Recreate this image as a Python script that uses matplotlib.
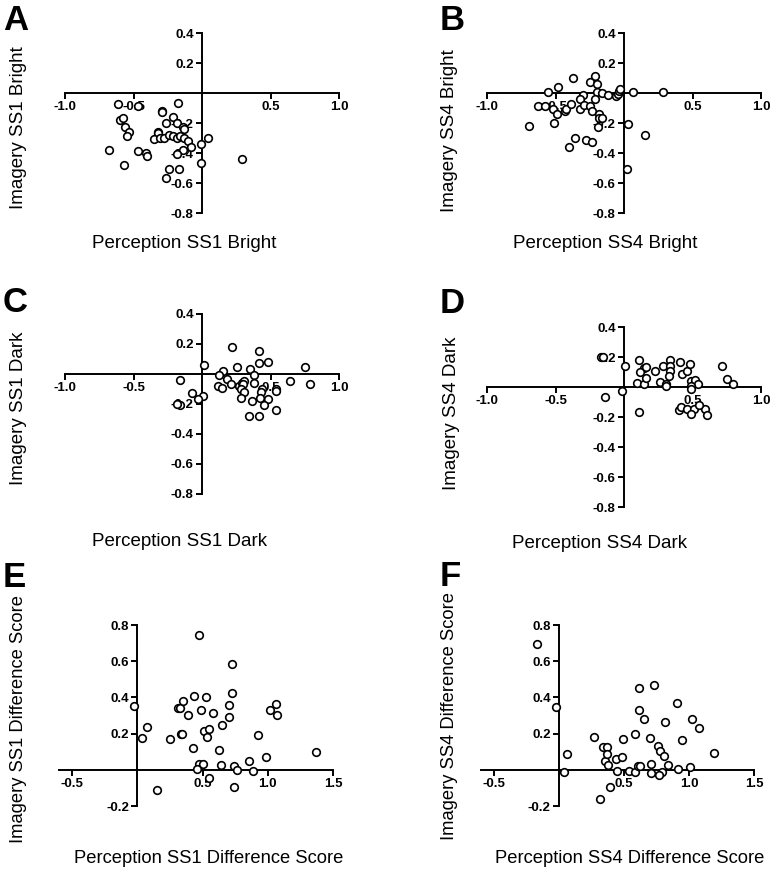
import matplotlib
matplotlib.use("Agg")
import matplotlib.pyplot as plt

plt.rcParams['font.family'] = ['Liberation Sans', 'DejaVu Sans']
plt.rcParams['axes.unicode_minus'] = False

# ---------------- data ----------------
a_x = [-0.61,-0.47,-0.175,-0.29,-0.29,-0.60,-0.575,-0.56,-0.53,-0.545,-0.21,-0.265,-0.18,-0.14,-0.135,-0.32,-0.32,-0.35,-0.31,-0.28,-0.24,-0.21,-0.18,-0.16,-0.13,-0.10,-0.08,-0.01,0.046,-0.68,-0.47,-0.41,-0.40,-0.57,-0.14,-0.18,0.29,-0.01,-0.24,-0.17,-0.26]
a_y = [-0.074,-0.088,-0.065,-0.12,-0.13,-0.18,-0.17,-0.23,-0.26,-0.29,-0.16,-0.20,-0.20,-0.23,-0.24,-0.26,-0.27,-0.31,-0.30,-0.30,-0.28,-0.29,-0.30,-0.29,-0.30,-0.32,-0.36,-0.34,-0.30,-0.38,-0.39,-0.40,-0.42,-0.48,-0.38,-0.41,-0.44,-0.47,-0.51,-0.51,-0.57]

b_x = [-0.556,-0.48,-0.37,-0.21,-0.25,-0.20,-0.30,-0.32,-0.20,-0.16,-0.12,-0.06,-0.046,-0.036,-0.027,0.068,0.284,-0.21,-0.63,-0.58,-0.52,-0.49,-0.43,-0.42,-0.39,-0.32,-0.29,-0.245,-0.233,-0.185,-0.18,-0.16,-0.19,-0.69,-0.51,0.03,0.15,-0.355,-0.28,-0.23,-0.40,0.02]
b_y = [0.007,0.04,0.10,0.115,0.07,0.063,-0.016,-0.04,0.007,0.0,-0.016,-0.02,-0.01,0.013,0.025,0.007,0.007,-0.04,-0.09,-0.085,-0.105,-0.14,-0.117,-0.105,-0.076,-0.11,-0.083,-0.09,-0.117,-0.14,-0.166,-0.17,-0.23,-0.22,-0.2,-0.21,-0.28,-0.30,-0.315,-0.33,-0.36,-0.505]

c_x = [0.216,0.415,0.48,0.415,0.017,0.255,0.35,0.75,0.153,0.124,0.38,0.185,-0.163,0.64,0.79,0.21,0.117,0.148,0.27,0.294,0.31,0.30,0.38,0.287,0.31,0.44,0.43,0.54,0.537,-0.07,0.007,-0.027,0.287,0.426,0.48,0.367,0.45,-0.163,-0.18,0.54,0.34,0.415]
c_y = [0.18,0.15,0.08,0.07,0.057,0.046,0.03,0.046,0.018,-0.004,-0.004,-0.033,-0.037,-0.044,-0.07,-0.064,-0.077,-0.092,-0.081,-0.059,-0.044,-0.07,-0.059,-0.103,-0.121,-0.103,-0.121,-0.099,-0.116,-0.13,-0.15,-0.17,-0.158,-0.158,-0.17,-0.18,-0.21,-0.21,-0.20,-0.24,-0.28,-0.28]

d_x = [-0.165,-0.153,0.005,0.112,0.148,0.114,0.16,0.228,0.284,0.333,0.333,0.333,0.328,0.41,0.42,0.46,0.484,0.095,0.148,0.16,0.265,0.306,0.31,0.49,0.515,0.54,0.49,0.49,0.714,0.75,0.795,-0.015,-0.14,0.109,0.40,0.415,0.46,0.51,0.487,0.593,0.605,0.545]
d_y = [0.197,0.197,0.138,0.18,0.127,0.098,0.136,0.105,0.138,0.18,0.138,0.109,0.07,0.164,0.088,0.109,0.153,0.026,0.018,0.06,0.033,0.018,0.007,0.04,0.048,0.022,0.004,-0.011,0.138,0.055,0.022,-0.026,-0.066,-0.168,-0.153,-0.136,-0.149,-0.149,-0.182,-0.149,-0.19,-0.12]

e_x = [-0.023,0.033,0.077,0.148,0.248,0.315,0.327,0.353,0.332,0.345,0.39,0.425,0.432,0.486,0.527,0.514,0.552,0.532,0.578,0.647,0.624,0.473,0.506,0.46,0.55,0.642,0.70,0.70,0.724,0.724,0.742,0.765,0.744,0.86,0.89,0.923,0.985,1.02,1.061,1.074,1.371,0.476]
e_y = [0.352,0.177,0.234,-0.109,0.168,0.339,0.339,0.382,0.20,0.20,0.302,0.118,0.407,0.33,0.40,0.216,0.227,0.179,0.312,0.247,0.112,0.031,0.031,0.002,-0.044,0.026,0.293,0.358,0.422,0.584,0.02,-0.002,-0.094,0.048,-0.006,0.192,0.072,0.33,0.363,0.302,0.098,0.745]

f_x = [-0.023,0.038,0.064,0.27,0.315,0.341,0.367,0.354,0.367,0.38,0.392,0.438,0.444,0.485,0.49,0.541,0.585,0.585,0.61,0.623,0.615,0.618,0.654,0.70,0.705,0.705,0.733,0.759,0.777,0.808,0.815,0.792,0.772,0.836,0.91,0.918,0.946,1.008,1.023,1.074,1.192,-0.172]
f_y = [0.348,-0.011,0.087,0.179,-0.162,0.127,0.127,0.05,0.087,0.026,-0.094,0.059,-0.006,0.072,0.168,-0.006,0.20,-0.011,0.02,0.02,0.33,0.45,0.278,0.173,0.031,-0.017,0.468,0.131,0.103,0.076,0.265,-0.011,-0.03,0.026,0.37,0.002,0.164,0.013,0.28,0.232,0.094,0.695]

corr_xticks = [-1.0, -0.5, 0.5, 1.0]
corr_yticks = [0.4, 0.2, -0.2, -0.4, -0.6, -0.8]
diff_xticks = [-0.5, 0.5, 1.0, 1.5]
diff_yticks = [0.8, 0.6, 0.4, 0.2, -0.2]

panels = [
    dict(letter="A", x=a_x, y=a_y, xlabel="Perception SS1 Bright", ylabel="Imagery SS1 Bright"),
    dict(letter="B", x=b_x, y=b_y, xlabel="Perception SS4 Bright", ylabel="Imagery SS4 Bright"),
    dict(letter="C", x=c_x, y=c_y, xlabel="Perception SS1 Dark", ylabel="Imagery SS1 Dark"),
    dict(letter="D", x=d_x, y=d_y, xlabel="Perception SS4 Dark", ylabel="Imagery SS4 Dark"),
    dict(letter="E", x=e_x, y=e_y, xlabel="Perception SS1 Difference Score", ylabel="Imagery SS1 Difference Score"),
    dict(letter="F", x=f_x, y=f_y, xlabel="Perception SS4 Difference Score", ylabel="Imagery SS4 Difference Score"),
]

# ---------------- layout (pixels) ----------------
W, H = 770, 872
fig = plt.figure(figsize=(W / 100, H / 100), dpi=100)

# x0, x1, ytop, ybot, xlim, ylim, xticks, yticks
geom = [
    (65, 339, 33, 213, (-1.0, 1.0), (-0.8, 0.4), corr_xticks, corr_yticks),
    (487, 761, 33, 213, (-1.0, 1.0), (-0.8, 0.4), corr_xticks, corr_yticks),
    (65, 339, 314, 494, (-1.0, 1.0), (-0.8, 0.4), corr_xticks, corr_yticks),
    (487, 761, 327, 507, (-1.0, 1.0), (-0.8, 0.4), corr_xticks, corr_yticks),
    (59, 333, 625, 806, (-0.6, 1.5), (-0.2, 0.8), diff_xticks, diff_yticks),
    (481, 754, 625, 806, (-0.6, 1.5), (-0.2, 0.8), diff_xticks, diff_yticks),
]
# label positions: (xlabel cx, xlabel cy, ylabel cx, ylabel cy, letter x, letter y, label size)
labpos = [
    (184, 243, 19, 128, 3, 4, 13.5),
    (605, 243, 449, 131, 440, 4, 13.5),
    (180, 542, 19, 408, 3, 286, 13.5),
    (600, 543, 452, 413, 440, 287, 13.5),
    (209, 858, 19, 719, 3, 561, 13.2),
    (630, 858, 449, 716, 440, 560, 13.2),
]

def fmt(v):
    return f"{v:.1f}"

for p, g, lp in zip(panels, geom, labpos):
    x0, x1, yt, yb, xl, yl, xt, yt_ticks = g
    ax = fig.add_axes([x0 / W, 1 - yb / H, (x1 - x0) / W, (yb - yt) / H])
    ax.set_facecolor('none')
    ax.scatter(p["x"], p["y"], s=30, facecolors='white', edgecolors='black',
               linewidths=1.2, zorder=3, clip_on=False)
    ax.set_xlim(*xl)
    ax.set_ylim(*yl)
    ax.spines['top'].set_visible(False)
    ax.spines['right'].set_visible(False)
    ax.spines['left'].set_position(('data', 0))
    ax.spines['bottom'].set_position(('data', 0))
    for s in ('left', 'bottom'):
        ax.spines[s].set_linewidth(1.4)
    ax.set_xticks(xt)
    ax.set_xticklabels([fmt(v) for v in xt])
    ax.set_yticks(yt_ticks)
    ax.set_yticklabels([fmt(v) for v in yt_ticks])
    ax.tick_params(axis='both', direction='out', length=4, width=1.4,
                   labelsize=9.5, pad=2)
    for t in ax.get_xticklabels() + ax.get_yticklabels():
        t.set_fontweight('bold')

    xcx, xcy, ycx, ycy, lx, ly, fs = lp
    fig.text(xcx / W, 1 - xcy / H, p["xlabel"], ha='center', va='center', fontsize=fs)
    fig.text(ycx / W, 1 - ycy / H, p["ylabel"], ha='center', va='center',
             rotation=90, fontsize=fs)
    fig.text(lx / W, 1 - ly / H, p["letter"], ha='left', va='top',
             fontsize=25, fontweight='bold')

fig.savefig("out.png", dpi=100)
